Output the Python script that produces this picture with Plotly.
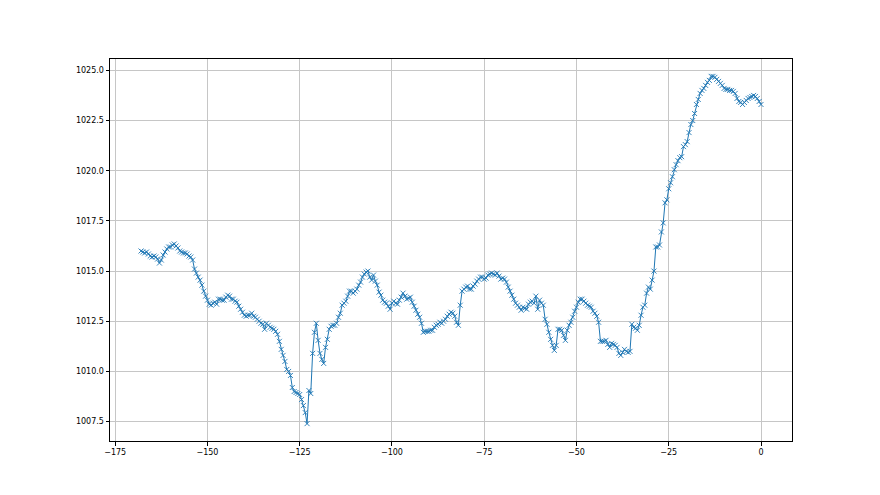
import plotly.graph_objects as go

hours = [
    -168, -167.5, -167, -166.5, -166, -165.5, -165, -164.5, -164, -163.5, -163, -162.5,
    -162, -161.5, -161, -160.5, -160, -159.5, -159, -158.5, -158, -157.5, -157, -156.5,
    -156, -155.5, -155, -154.5, -154, -153.5, -153, -152.5, -152, -151.5, -151, -150.5,
    -150, -149.5, -149, -148.5, -148, -147.5, -147, -146.5, -146, -145.5, -145, -144.5,
    -144, -143.5, -143, -142.5, -142, -141.5, -141, -140.5, -140, -139.5, -139, -138.5,
    -138, -137.5, -137, -136.5, -136, -135.5, -135, -134.5, -134, -133.5, -133, -132.5,
    -132, -131.5, -131, -130.5, -130, -129.5, -129, -128.5, -128, -127.5, -127, -126.5,
    -126, -125.5, -125, -124.5, -124, -123.5, -123, -122.5, -122, -121.5, -121, -120.5,
    -120, -119.5, -119, -118.5, -118, -117.5, -117, -116.5, -116, -115.5, -115, -114.5,
    -114, -113.5, -113, -112.5, -112, -111.5, -111, -110.5, -110, -109.5, -109, -108.5,
    -108, -107.5, -107, -106.5, -106, -105.5, -105, -104.5, -104, -103.5, -103, -102.5,
    -102, -101.5, -101, -100.5, -100, -99.5, -99, -98.5, -98, -97.5, -97, -96.5,
    -96, -95.5, -95, -94.5, -94, -93.5, -93, -92.5, -92, -91.5, -91, -90.5,
    -90, -89.5, -89, -88.5, -88, -87.5, -87, -86.5, -86, -85.5, -85, -84.5,
    -84, -83.5, -83, -82.5, -82, -81.5, -81, -80.5, -80, -79.5, -79, -78.5,
    -78, -77.5, -77, -76.5, -76, -75.5, -75, -74.5, -74, -73.5, -73, -72.5,
    -72, -71.5, -71, -70.5, -70, -69.5, -69, -68.5, -68, -67.5, -67, -66.5,
    -66, -65.5, -65, -64.5, -64, -63.5, -63, -62.5, -62, -61.5, -61, -60.5,
    -60, -59.5, -59, -58.5, -58, -57.5, -57, -56.5, -56, -55.5, -55, -54.5,
    -54, -53.5, -53, -52.5, -52, -51.5, -51, -50.5, -50, -49.5, -49, -48.5,
    -48, -47.5, -47, -46.5, -46, -45.5, -45, -44.5, -44, -43.5, -43, -42.5,
    -42, -41.5, -41, -40.5, -40, -39.5, -39, -38.5, -38, -37.5, -37, -36.5,
    -36, -35.5, -35, -34.5, -34, -33.5, -33, -32.5, -32, -31.5, -31, -30.5,
    -30, -29.5, -29, -28.5, -28, -27.5, -27, -26.5, -26, -25.5, -25, -24.5,
    -24, -23.5, -23, -22.5, -22, -21.5, -21, -20.5, -20, -19.5, -19, -18.5,
    -18, -17.5, -17, -16.5, -16, -15.5, -15, -14.5, -14, -13.5, -13, -12.5,
    -12, -11.5, -11, -10.5, -10, -9.5, -9, -8.5, -8, -7.5, -7, -6.5,
    -6, -5.5, -5, -4.5, -4, -3.5, -3, -2.5, -2, -1.5, -1, -0.5, 0,
]

pressure = [
    1016.0, 1015.95, 1015.9, 1015.95, 1015.85, 1015.75, 1015.7, 1015.75, 1015.7, 1015.6, 1015.4, 1015.55,
    1015.8, 1015.95, 1016.1, 1016.2, 1016.2, 1016.3, 1016.35, 1016.25, 1016.15, 1016.0, 1015.95, 1015.9,
    1015.9, 1015.85, 1015.75, 1015.7, 1015.55, 1015.1, 1014.9, 1014.7, 1014.55, 1014.3, 1014.0, 1013.75,
    1013.55, 1013.35, 1013.3, 1013.4, 1013.45, 1013.35, 1013.6, 1013.6, 1013.55, 1013.55, 1013.7, 1013.8,
    1013.75, 1013.6, 1013.6, 1013.5, 1013.45, 1013.25, 1013.1, 1012.95, 1012.8, 1012.75, 1012.8, 1012.8,
    1012.9, 1012.75, 1012.7, 1012.6, 1012.5, 1012.4, 1012.35, 1012.1, 1012.4, 1012.3, 1012.2, 1012.15,
    1012.1, 1012.0, 1011.85, 1011.5, 1011.1, 1010.8, 1010.5, 1010.1, 1010.0, 1009.8, 1009.2, 1009.0,
    1008.95, 1008.9, 1008.85, 1008.6, 1008.3, 1007.95, 1007.4, 1009.05, 1008.9, 1010.9, 1011.95, 1012.4,
    1011.55, 1010.9, 1010.6, 1010.4, 1011.2, 1011.6, 1012.1, 1012.25, 1012.3, 1012.3, 1012.4, 1012.7,
    1012.9, 1013.3, 1013.4, 1013.5, 1013.75, 1014.0, 1014.0, 1013.9, 1014.0, 1014.1, 1014.3, 1014.45,
    1014.7, 1014.85, 1014.95, 1015.0, 1014.7, 1014.55, 1014.8, 1014.5, 1014.3, 1013.95, 1013.8, 1013.55,
    1013.45, 1013.4, 1013.25, 1013.1, 1013.4, 1013.5, 1013.4, 1013.35, 1013.55, 1013.7, 1013.9, 1013.75,
    1013.6, 1013.65, 1013.7, 1013.45, 1013.25, 1013.05, 1012.85, 1012.7, 1012.4, 1011.95, 1012.0, 1012.0,
    1012.0, 1012.05, 1012.05, 1012.2, 1012.3, 1012.35, 1012.45, 1012.4, 1012.5, 1012.6, 1012.75, 1012.85,
    1012.95, 1012.9, 1012.75, 1012.45, 1012.3, 1013.3, 1014.0, 1014.1, 1014.2, 1014.25, 1014.1, 1014.1,
    1014.25, 1014.35, 1014.5, 1014.6, 1014.7, 1014.7, 1014.6, 1014.65, 1014.8, 1014.85, 1014.9, 1014.85,
    1014.8, 1014.9, 1014.75, 1014.6, 1014.65, 1014.6, 1014.45, 1014.2, 1014.0, 1013.8, 1013.6, 1013.4,
    1013.3, 1013.2, 1013.05, 1013.2, 1013.15, 1013.1, 1013.35, 1013.45, 1013.5, 1013.4, 1013.75, 1013.1,
    1013.55, 1013.4, 1013.3, 1012.6, 1012.35, 1011.95, 1011.6, 1011.3, 1011.05, 1011.3, 1012.1, 1012.1,
    1012.05, 1011.8, 1011.55, 1012.05, 1012.3, 1012.45, 1012.7, 1013.0, 1013.2, 1013.45, 1013.6, 1013.6,
    1013.5, 1013.4, 1013.3, 1013.25, 1013.2, 1013.0, 1012.9, 1012.75, 1012.45, 1011.5, 1011.5, 1011.5,
    1011.55, 1011.35, 1011.2, 1011.4, 1011.35, 1011.3, 1011.2, 1010.9, 1010.8, 1010.95, 1011.1, 1011.0,
    1010.95, 1011.0, 1012.35, 1012.2, 1012.15, 1012.05, 1012.3, 1012.8, 1013.2, 1013.3, 1013.9, 1014.2,
    1014.1, 1014.55, 1015.0, 1016.2, 1016.2, 1016.3, 1016.95, 1017.4, 1018.4, 1018.55, 1019.1, 1019.4,
    1019.7, 1020.05, 1020.3, 1020.5, 1020.65, 1020.7, 1021.2, 1021.3, 1021.45, 1021.9, 1022.3, 1022.5,
    1022.85, 1023.3, 1023.55, 1023.85, 1024.0, 1024.1, 1024.25, 1024.4, 1024.5, 1024.7, 1024.7, 1024.65,
    1024.55, 1024.45, 1024.35, 1024.25, 1024.1, 1024.05, 1024.05, 1024.0, 1024.0, 1023.95, 1023.85, 1023.6,
    1023.45, 1023.4, 1023.3, 1023.4, 1023.5, 1023.6, 1023.65, 1023.7, 1023.75, 1023.7, 1023.6, 1023.45, 1023.3,
]

x_ticks = [-175, -150, -125, -100, -75, -50, -25, 0]
y_ticks = [1007.5, 1010.0, 1012.5, 1015.0, 1017.5, 1020.0, 1022.5, 1025.0]

fig = go.Figure()
fig.add_trace(go.Scatter(
    x=hours, y=pressure, mode="lines+markers",
    line=dict(color="#1f77b4", width=1),
    marker=dict(symbol="x-thin", size=5, color="#1f77b4",
                line=dict(color="#1f77b4", width=0.9)),
    showlegend=False, hoverinfo="x+y",
))

axis_common = dict(
    showgrid=True, gridcolor="#c6c6c6", gridwidth=0.8,
    showline=True, linecolor="black", linewidth=1, mirror=True,
    ticks="outside", ticklen=3.5, tickwidth=0.8, tickcolor="black",
    zeroline=False,
    tickfont=dict(family="DejaVu Sans", size=8, color="black"),
)

fig.update_xaxes(range=[-176.4, 8.4], tickvals=x_ticks,
                 ticktext=[str(v).replace("-", "\u2212") for v in x_ticks], **axis_common)
fig.update_yaxes(range=[1006.535, 1025.565], tickvals=y_ticks,
                 ticktext=[f"{v:.1f}" for v in y_ticks], **axis_common)

fig.update_layout(
    width=872, height=487,
    margin=dict(l=102, r=88, t=51, b=54),
    paper_bgcolor="white", plot_bgcolor="white",
)

fig.write_html("out.html")
